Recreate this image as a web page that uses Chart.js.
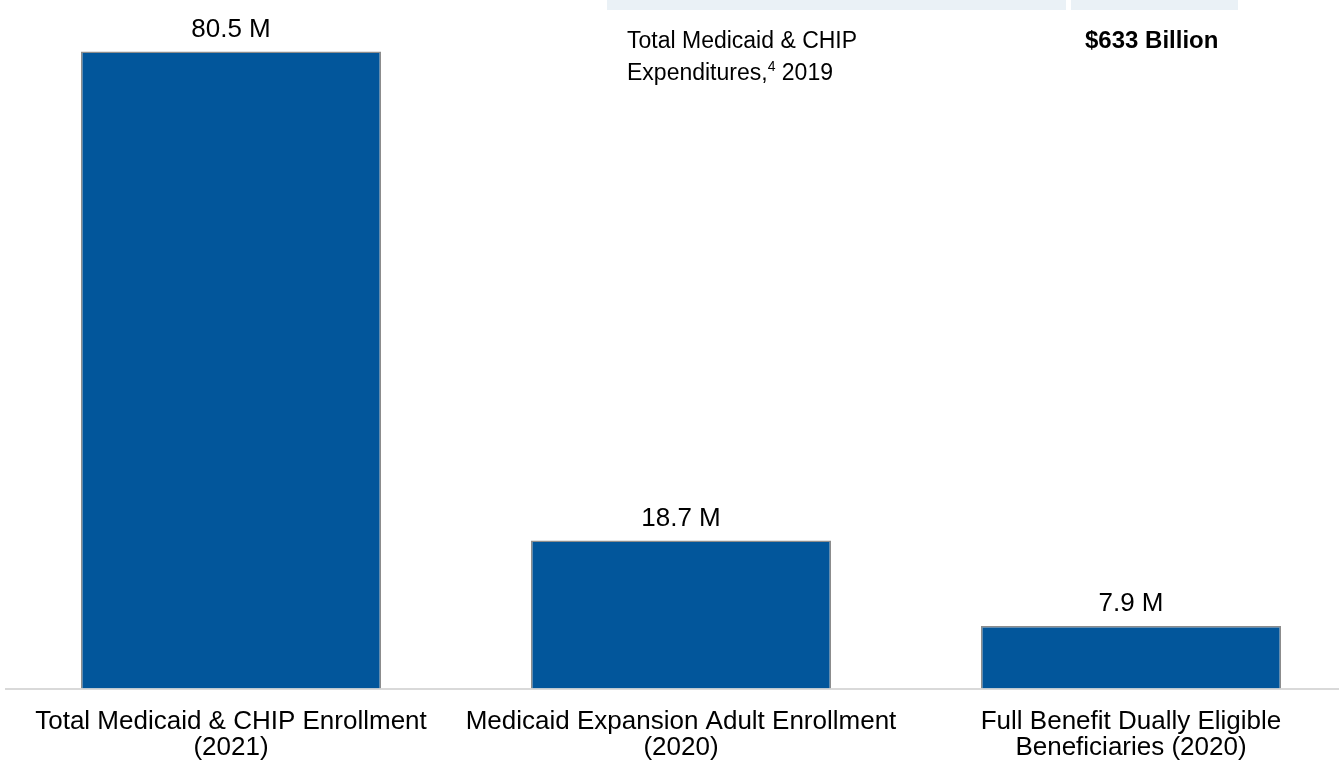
<!DOCTYPE html>
<html lang="en">
<head>
    <meta charset="UTF-8">
    <title>Medicaid &amp; CHIP Enrollment</title>
    <script src="https://cdn.jsdelivr.net/npm/chart.js"></script>
    <style>
        html, body { margin: 0; padding: 0; background: #fff; overflow: hidden; }
        body { width: 1339px; height: 765px; position: relative; font-family: "Liberation Sans", Arial, sans-serif; }
        #wrap { position: absolute; left: 0; top: 0; width: 1356px; height: 765px; }
        .band { position: absolute; top: 0; height: 10px; background: #EAF1F6; }
        .cell { position: absolute; font-size: 23px; line-height: 32px; color: #000; }
        .cell sup { font-size: 14px; vertical-align: 9px; line-height: 0; }
    </style>
</head>
<body>
    <div id="wrap"><canvas id="grafico"></canvas></div>

    <!-- pedaço da tabela que aparece no topo -->
    <div class="band" style="left:607px; width:459px;"></div>
    <div class="band" style="left:1071px; width:167px;"></div>
    <div class="cell" style="left:627px; top:24px;">Total Medicaid &amp; CHIP<br>Expenditures,<sup>4</sup> 2019</div>
    <div class="cell" style="left:1085px; top:24px; font-weight:bold; font-size:24px;">$633 Billion</div>

    <script>
        const categorias = [
            ['Total Medicaid & CHIP Enrollment', '(2021)'],
            ['Medicaid Expansion Adult Enrollment', '(2020)'],
            ['Full Benefit Dually Eligible', 'Beneficiaries (2020)']
        ];
        const valores = [80.5, 18.7, 7.9];
        const rotulos = ['80.5 M', '18.7 M', '7.9 M'];

        const rotulosPlugin = {
            id: 'rotulos',
            afterDatasetsDraw(chart) {
                const ctx = chart.ctx;
                const meta = chart.getDatasetMeta(0);
                ctx.save();
                ctx.font = '26px "Liberation Sans", Arial, sans-serif';
                ctx.fillStyle = '#000';
                ctx.textAlign = 'center';
                ctx.textBaseline = 'middle';
                meta.data.forEach(function(barra, i) {
                    ctx.fillText(rotulos[i], barra.x, barra.y - 22);
                });
                ctx.restore();
            }
        };

        new Chart(document.getElementById('grafico'), {
            type: 'bar',
            data: {
                labels: categorias,
                datasets: [{
                    data: valores,
                    backgroundColor: '#02569B',
                    borderColor: '#8C8C8C',
                    borderWidth: 1.5,
                    barPercentage: 0.6667,
                    categoryPercentage: 1
                }]
            },
            options: {
                responsive: true,
                maintainAspectRatio: false,
                animation: false,
                layout: { padding: { left: 6, right: 0, top: 0, bottom: -8 } },
                plugins: {
                    legend: { display: false },
                    tooltip: { enabled: false }
                },
                scales: {
                    x: {
                        grid: { display: false },
                        border: { display: true, color: '#D9D9D9', width: 2 },
                        ticks: {
                            color: '#000',
                            padding: 13,
                            maxRotation: 0,
                            autoSkip: false,
                            font: { family: '"Liberation Sans", Arial, sans-serif', size: 26, lineHeight: 0.97 }
                        }
                    },
                    y: {
                        display: false,
                        min: 0,
                        max: 87
                    }
                }
            },
            plugins: [rotulosPlugin]
        });
    </script>
</body>
</html>
